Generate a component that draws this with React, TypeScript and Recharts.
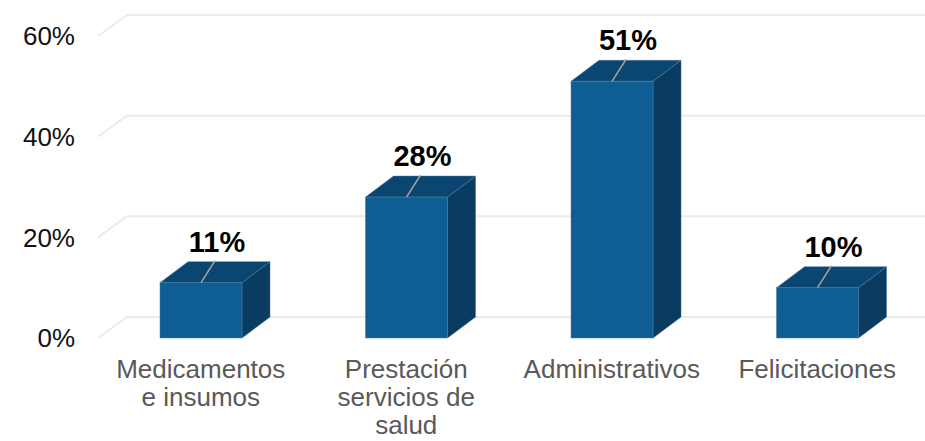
import React from 'react';
import { BarChart, Bar, XAxis, YAxis, CartesianGrid } from 'recharts';

const categories = ['Medicamentos e insumos', 'Prestación servicios de salud', 'Administrativos', 'Felicitaciones'];
const values = [11, 28, 51, 10];
const yTicks = [0, 20, 40, 60];

const data = categories.map((name, i) => ({ name, value: values[i] }));

const FONT = '"Liberation Sans", Arial, sans-serif';
// depth of the fake 3D look
const DX = 28;
const DY = 21;

let ctx: CanvasRenderingContext2D | null = null;
const measure = (s: string) => {
    if (!ctx) ctx = document.createElement('canvas').getContext('2d');
    if (!ctx) return s.length * 13;
    ctx.font = `26px ${FONT}`;
    return ctx.measureText(s).width;
};

// greedy word wrap to a max pixel width
const wrap = (label: string, maxWidth: number) => {
    const lines: string[] = [];
    let cur = '';
    label.split(' ').forEach((w) => {
        const next = cur ? `${cur} ${w}` : w;
        if (cur && measure(next) > maxWidth) {
            lines.push(cur);
            cur = w;
        } else {
            cur = next;
        }
    });
    if (cur) lines.push(cur);
    return lines;
};

const gridLine = (props: any) => {
    const { x1, y1, x2, key } = props;
    return (
        <path
            key={key}
            d={`M${x1},${y1} L${x1 + DX + 1},${y1 - DY} L${x2 + DX + 10},${y1 - DY}`}
            stroke="#ebebeb"
            strokeWidth={2}
            fill="none"
        />
    );
};

const Box3D = (props: any) => {
    const { x, y, width, height, payload } = props;
    if (height <= 0) return null;
    const cx = x + width / 2;
    return (
        <g>
            {/* side face */}
            <path
                d={`M${x + width},${y} L${x + width + DX},${y - DY} L${x + width + DX},${y + height - DY} L${x + width},${y + height} Z`}
                fill="#0a3c62"
                stroke="#3f6f98"
                strokeWidth={0.5}
            />
            {/* top face */}
            <path
                d={`M${x},${y} L${x + DX},${y - DY} L${x + width + DX},${y - DY} L${x + width},${y} Z`}
                fill="#0b4670"
                stroke="#4a7ba6"
                strokeWidth={0.5}
            />
            {/* front face */}
            <rect x={x} y={y} width={width} height={height} fill="#0f5e93" stroke="#4a7ba6" strokeWidth={0.5} />
            {/* leader line + label */}
            <line x1={cx} y1={y} x2={cx + 14} y2={y - 22} stroke="#a6a6a6" strokeWidth={1.5} />
            <text
                x={cx + 16}
                y={y - 31}
                textAnchor="middle"
                fontFamily={FONT}
                fontSize={29}
                fontWeight="bold"
                fill="#000"
            >
                {`${payload.value}%`}
            </text>
        </g>
    );
};

const CategoryTick = (props: any) => {
    const { x, y, payload } = props;
    const lines = wrap(payload.value, 183);
    return (
        <text x={x} y={y + 40} textAnchor="middle" fontSize={26} fontFamily={FONT} fill="#595959">
            {lines.map((l, i) => (
                <tspan key={i} x={x} dy={i === 0 ? 0 : 28}>
                    {l}
                </tspan>
            ))}
        </text>
    );
};

export default function App() {
    return (
        <div style={{ position: 'fixed', left: 0, top: 0, width: 925, height: 441, background: '#fff' }}>
            <BarChart width={925} height={441} data={data} margin={{ top: 36, right: 5, bottom: 73, left: 0 }} barSize={82}>
                <CartesianGrid vertical={false} horizontal={gridLine} />
                <XAxis
                    dataKey="name"
                    height={30}
                    axisLine={false}
                    tickLine={false}
                    tickSize={0}
                    tickMargin={0}
                    interval={0}
                    tick={<CategoryTick />}
                />
                <YAxis
                    width={98}
                    domain={[0, 60]}
                    ticks={yTicks}
                    axisLine={false}
                    tickLine={false}
                    tickSize={0}
                    tickMargin={23}
                    tickFormatter={(v: number) => `${v}%`}
                    tick={{ fontSize: 26, fontFamily: FONT, fill: '#111' }}
                />
                <Bar dataKey="value" shape={Box3D} isAnimationActive={false} />
            </BarChart>
        </div>
    );
}
